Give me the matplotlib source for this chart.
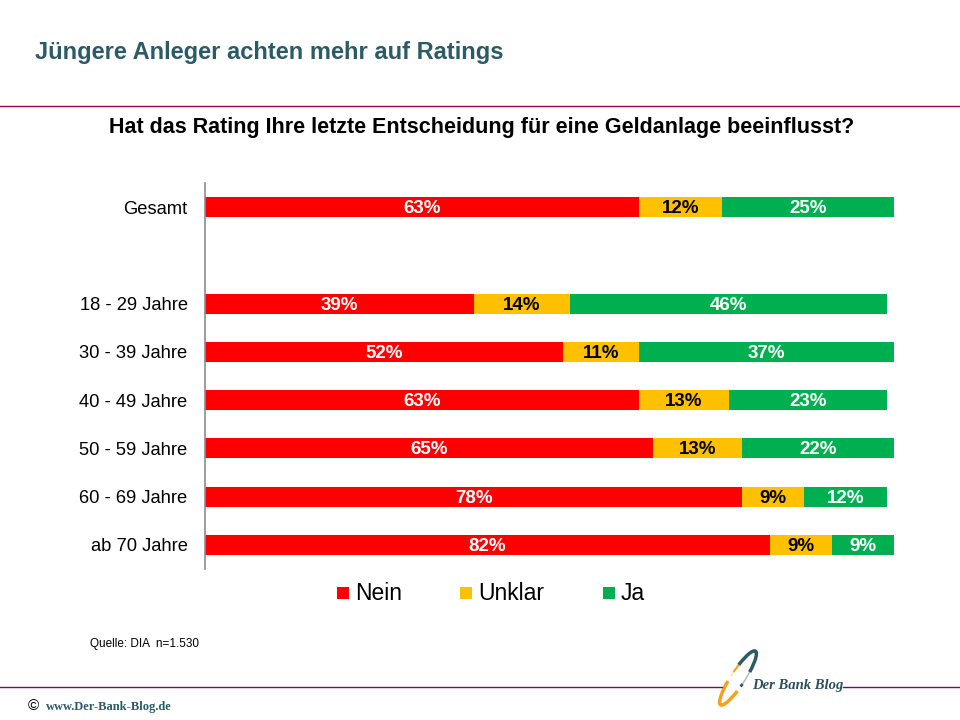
import matplotlib
matplotlib.use("Agg")
import matplotlib.pyplot as plt
from matplotlib.patches import Arc, Rectangle
import numpy as np

categories = ["Gesamt", "18 - 29 Jahre", "30 - 39 Jahre", "40 - 49 Jahre",
              "50 - 59 Jahre", "60 - 69 Jahre", "ab 70 Jahre"]
positions = [0, 2, 3, 4, 5, 6, 7]
nein = [63, 39, 52, 63, 65, 78, 82]
unklar = [12, 14, 11, 13, 13, 9, 9]
ja = [25, 46, 37, 23, 22, 12, 9]
series_names = ["Nein", "Unklar", "Ja"]
colors = ["#FF0000", "#FFC000", "#00B050"]
label_colors = ["white", "black", "white"]

plt.rcParams['font.family'] = ['Liberation Sans', 'DejaVu Sans']

fig = plt.figure(figsize=(9.6, 7.2), dpi=100)
W, H = 960, 720

def fx(px):
    return px / W

def fy(py):
    return 1 - py / H

ax = fig.add_axes([fx(205), fy(569), (894 - 205) / W, (569 - 183) / H])
ax.set_xlim(0, 100)
ax.set_ylim(7.5, -0.5)

left = np.zeros(len(categories))
for vals, c, lc in zip([nein, unklar, ja], colors, label_colors):
    vals = np.array(vals, dtype=float)
    ax.barh(positions, vals, left=left, height=0.41, color=c, edgecolor='none')
    for p, l, v in zip(positions, left, vals):
        ax.text(l + v / 2, p + 0.03, f"{int(v)}%", ha='center', va='center', color=lc,
                fontsize=13.5, fontweight='bold')
    left = left + vals

ax.set_yticks(positions)
ax.set_yticklabels(categories, fontsize=13.2)
ax.tick_params(axis='y', length=0, pad=12.5)
ax.set_xticks([])
for s in ['top', 'right', 'bottom']:
    ax.spines[s].set_visible(False)
ax.spines['left'].set_color('#8C8C8C')
ax.spines['left'].set_linewidth(1.2)

# Title and subtitle
fig.text(fx(35), fy(52), "Jüngere Anleger achten mehr auf Ratings", ha='left', va='center',
         fontsize=17, fontweight='bold', color='#2C5A66')
fig.add_artist(plt.Line2D([0, 1], [fy(106), fy(106)], color='#A0005A', linewidth=1.0))
fig.text(fx(482), fy(127), "Hat das Rating Ihre letzte Entscheidung für eine Geldanlage beeinflusst?",
         ha='center', va='center', fontsize=15.5, fontweight='bold', color='black')

# Legend
leg_items = [(337, "Nein"), (460, "Unklar"), (603, "Ja")]
for (x, name), c in zip(leg_items, colors):
    fig.add_artist(Rectangle((fx(x), fy(599)), 12 / W, 12 / H, facecolor=c, edgecolor='none',
                             transform=fig.transFigure))
    fig.text(fx(x + 18), fy(594), name, ha='left', va='center', fontsize=16.5, color='black')

# Source
fig.text(fx(90), fy(644), "Quelle: DIA  n=1.530", ha='left', va='center', fontsize=8.5,
         color='black')

# Footer lines
fig.add_artist(plt.Line2D([0, fx(722)], [fy(687), fy(687)], color='#7A0A5E', linewidth=1.0))
fig.add_artist(plt.Line2D([fx(843), 1], [fy(687), fy(687)], color='#7A0A5E', linewidth=1.0))
fig.text(fx(752), fy(686), "Der Bank Blog", ha='left', va='center', fontsize=10.5,
         fontstyle='italic', fontweight='bold', color='#2C4F5C', family=['Liberation Serif', 'DejaVu Serif'])
fig.text(fx(28), fy(706), "©", ha='left', va='center', fontsize=11, color='black')
fig.text(fx(46), fy(707), "www.Der-Bank-Blog.de", ha='left', va='center', fontsize=9,
         fontweight='bold', color='#2C5A66', family=['Liberation Serif', 'DejaVu Serif'])

# Logo swoosh (ellipse arcs)
lax = fig.add_axes([fx(700), fy(715), 80 / W, 70 / H])
lax.set_xlim(0, 80)
lax.set_ylim(0, 70)
lax.axis('off')
cx, cy = 38, 37
lax.add_patch(Arc((cx, cy), 14, 64, angle=-33, theta1=60, theta2=120, color='#2C5A66', lw=2.5))
lax.add_patch(Arc((cx, cy), 14, 64, angle=-33, theta1=-20, theta2=60, color='#A8B8BE', lw=1.0))
lax.add_patch(Arc((cx, cy), 14, 64, angle=-33, theta1=120, theta2=160, color='#F5A020', lw=1.5))
lax.add_patch(Arc((cx, cy), 14, 64, angle=-33, theta1=160, theta2=200, color='#FDE0A8', lw=1.0))
lax.add_patch(Arc((cx, cy), 14, 64, angle=-33, theta1=230, theta2=300, color='#F5A020', lw=2.5))
lax.add_patch(Arc((cx, cy), 14, 64, angle=-33, theta1=-40, theta2=-20, color='#2C5A66', lw=2.0))

fig.savefig("out.png", dpi=100)
